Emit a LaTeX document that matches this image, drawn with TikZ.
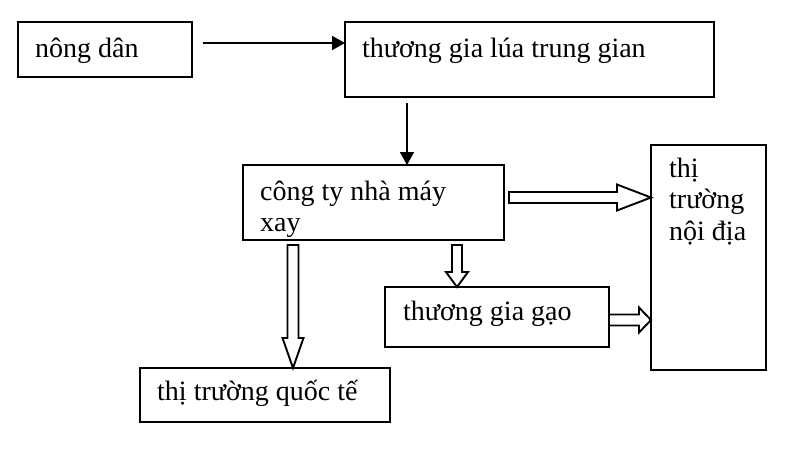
\documentclass[tikz,border=0pt]{standalone}
\usepackage{fontspec}
\setmainfont{Liberation Serif}
\usetikzlibrary{arrows.meta,calc}
\tikzset{
  box/.style={draw, line width=1.9pt, inner sep=0pt, rectangle},
  lbl/.style={anchor=base west, inner sep=0pt, align=left, font=\fontsize{28}{31.5}\selectfont},
  solidarrow/.style={line width=1.9pt, -{Triangle[length=13pt,width=14pt]}},
  hollow/.style={draw, line width=1.9pt, fill=white, line join=miter},
}
% hollow arrow to the right: start, end, shaft half, head half, head length
\newcommand\HArrRight[5]{%
  \path[hollow] let \p1=(#1), \p2=(#2) in
    (\x1,{\y1+#3}) -- ({\x2-#5},{\y1+#3}) -- ({\x2-#5},{\y1+#4}) -- (\x2,\y1)
    -- ({\x2-#5},{\y1-#4}) -- ({\x2-#5},{\y1-#3}) -- (\x1,{\y1-#3}) -- cycle;}
% hollow arrow downwards
\newcommand\HArrDown[5]{%
  \path[hollow] let \p1=(#1), \p2=(#2) in
    ({\x1-#3},\y1) -- ({\x1-#3},{\y2+#5}) -- ({\x1-#4},{\y2+#5}) -- (\x1,\y2)
    -- ({\x1+#4},{\y2+#5}) -- ({\x1+#3},{\y2+#5}) -- ({\x1+#3},\y1) -- cycle;}
\begin{document}
\begin{tikzpicture}[x=1pt,y=-1pt]
\useasboundingbox[fill=white] (0,0) rectangle (803,453);
% boxes
\draw[box] (18,22) rectangle (192,77);
\coordinate (Anw) at (18,22);
\draw[box] (345,22) rectangle (714,97);
\coordinate (Bnw) at (345,22);
\draw[box] (243,165) rectangle (504,240);
\coordinate (Cnw) at (243,165);
\draw[box] (651,145) rectangle (766,370);
\coordinate (Dnw) at (651,145);
\draw[box] (385,287) rectangle (609,347);
\coordinate (Enw) at (385,287);
\draw[box] (140,368) rectangle (390,422);
\coordinate (Fnw) at (140,368);
% labels (base = last line's baseline)
\node[lbl] (tA) at ($(Anw)+(17,35)$) {nông dân};
\node[lbl] (tB) at ($(Bnw)+(17,35)$) {thương gia lúa trung gian};
\node[lbl] (tC) at ($(Cnw)+(17,66.5)$) {công ty nhà máy\\xay};
\node[lbl] (tD) at ($(Dnw)+(18,95)$) {thị\\trường\\nội địa};
\node[lbl] (tE) at ($(Enw)+(18,33)$) {thương gia gạo};
\node[lbl] (tF) at ($(Fnw)+(17,32)$) {thị trường quốc tế};
% solid arrows
\coordinate (a1) at (203,43);
\coordinate (a2) at (345,43);
\draw[solidarrow] (a1) -- (a2);
\coordinate (b1) at (407,103);
\coordinate (b2) at (407,165);
\draw[solidarrow] (b1) -- (b2);
% hollow arrows
\coordinate (c1) at (509,197.5);
\coordinate (c2) at (651,197.5);
\HArrRight{c1}{c2}{5.5pt}{13pt}{34pt}
\coordinate (d1) at (293,245);
\coordinate (d2) at (293,368);
\HArrDown{d1}{d2}{5.5pt}{10.5pt}{30pt}
\coordinate (e1) at (457,245);
\coordinate (e2) at (457,287);
\HArrDown{e1}{e2}{5pt}{11pt}{15pt}
\coordinate (f1) at (609,320);
\coordinate (f2) at (651,320);
\HArrRight{f1}{f2}{5.5pt}{12.5pt}{12pt}
\end{tikzpicture}
\end{document}
